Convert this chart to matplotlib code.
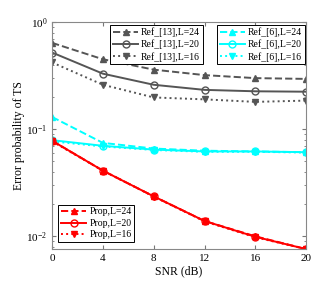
import numpy as np
import matplotlib
matplotlib.use('Agg')
import matplotlib.pyplot as plt
from matplotlib.ticker import LogLocator, NullFormatter

plt.rcParams['font.family'] = ['Liberation Serif', 'DejaVu Serif']
plt.rcParams['mathtext.fontset'] = 'stix'

snr = [0, 4, 8, 12, 16, 20]

ref13_l24 = [0.64, 0.45, 0.36, 0.32, 0.30, 0.295]
ref13_l20 = [0.52, 0.33, 0.26, 0.233, 0.226, 0.224]
ref13_l16 = [0.42, 0.26, 0.198, 0.19, 0.18, 0.185]

ref6_l24 = [0.13, 0.0745, 0.066, 0.063, 0.062, 0.061]
ref6_l20 = [0.079, 0.070, 0.0645, 0.062, 0.062, 0.061]
ref6_l16 = [0.077, 0.069, 0.064, 0.0615, 0.0615, 0.0605]

prop_l24 = [0.078, 0.041, 0.0236, 0.0139, 0.0100, 0.0076]
prop_l20 = [0.078, 0.041, 0.0236, 0.0139, 0.0099, 0.0076]
prop_l16 = [0.077, 0.041, 0.0235, 0.0138, 0.0098, 0.0076]

gray = '#555555'
cyan = '#00ffff'
red = '#ff0000'

fig = plt.figure(figsize=(3.32, 2.99), dpi=100)
ax = fig.add_axes([0.157, 0.167, 0.765, 0.759])

lw = 1.4
ms = 5
h1 = ax.semilogy(snr, ref13_l24, '--', color=gray, marker='^', ms=ms, lw=lw, mfc=gray, label='Ref_[13],L=24')
h2 = ax.semilogy(snr, ref13_l20, '-', color=gray, marker='o', ms=ms, lw=lw, mfc='none', label='Ref_[13],L=20')
h3 = ax.semilogy(snr, ref13_l16, ':', color=gray, marker='v', ms=ms, lw=lw, mfc=gray, label='Ref_[13],L=16')
h4 = ax.semilogy(snr, ref6_l24, '--', color=cyan, marker='^', ms=ms, lw=lw, mfc=cyan, label='Ref_[6],L=24')
h5 = ax.semilogy(snr, ref6_l20, '-', color=cyan, marker='o', ms=ms, lw=lw, mfc='none', label='Ref_[6],L=20')
h6 = ax.semilogy(snr, ref6_l16, ':', color=cyan, marker='v', ms=ms, lw=lw, mfc=cyan, label='Ref_[6],L=16')
h7 = ax.semilogy(snr, prop_l24, '--', color=red, marker='^', ms=ms, lw=lw, mfc=red, label='Prop,L=24')
h8 = ax.semilogy(snr, prop_l20, '-', color=red, marker='o', ms=ms, lw=lw, mfc='none', label='Prop,L=20')
h9 = ax.semilogy(snr, prop_l16, ':', color=red, marker='v', ms=ms, lw=lw, mfc=red, label='Prop,L=16')

ax.set_xlim(0, 20)
ax.set_ylim(0.0076, 1)
ax.set_xticks(snr)
ax.yaxis.set_major_locator(LogLocator(base=10, numticks=5))
ax.yaxis.set_minor_locator(LogLocator(base=10, subs=np.arange(2, 10), numticks=20))
ax.yaxis.set_minor_formatter(NullFormatter())
ax.tick_params(which='both', direction='in', top=True, right=True, labelsize=8, color='#777777')
ax.tick_params(which='major', length=3)
ax.tick_params(which='minor', length=1.5)
for s in ax.spines.values():
    s.set_color('#888888')

ax.set_xlabel('SNR (dB)', fontsize=8.5, labelpad=2)
ax.set_ylabel('Error probability of TS', fontsize=8.5, labelpad=1)

lkw = dict(fontsize=7, frameon=True, fancybox=False, edgecolor='black', framealpha=1,
           handlelength=2.6, handletextpad=0.3, borderpad=0.3, labelspacing=0.25, borderaxespad=0.0)
leg1 = ax.legend(handles=h1 + h2 + h3, loc='upper left', bbox_to_anchor=(0.228, 0.989), **lkw)
leg1.get_frame().set_linewidth(0.7)
ax.add_artist(leg1)
leg2 = ax.legend(handles=h4 + h5 + h6, loc='upper right', bbox_to_anchor=(0.996, 0.989), **lkw)
leg2.get_frame().set_linewidth(0.7)
ax.add_artist(leg2)
leg3 = ax.legend(handles=h7 + h8 + h9, loc='lower left', bbox_to_anchor=(0.024, 0.03), **lkw)
leg3.get_frame().set_linewidth(0.7)

fig.savefig('out.png', dpi=100)
